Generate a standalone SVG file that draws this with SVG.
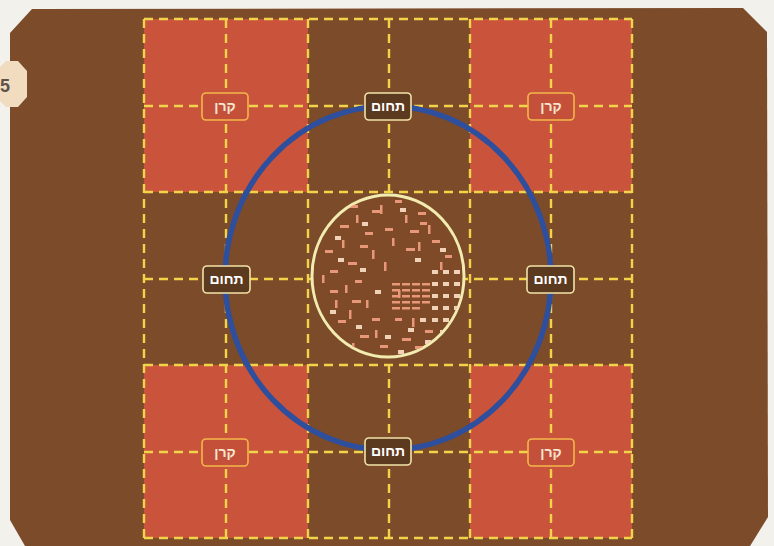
<svg xmlns="http://www.w3.org/2000/svg" width="774" height="546" viewBox="0 0 774 546">
<defs>
<style>
.grid{stroke:#f2d44a;stroke-width:2.4;stroke-dasharray:9 6;fill:none}
.red{fill:#c9533b}
.lbl{font-family:"Liberation Sans","DejaVu Sans",sans-serif;font-size:14px;font-weight:bold;text-anchor:middle}
.keren rect{fill:#c4503a;stroke:#f2b84a;stroke-width:1.6}
.keren text{fill:#f8e6d2}
.techum rect{fill:#5c3a1f;stroke:#f2e4a8;stroke-width:1.6}
.techum text{fill:#ffffff}
.mh{fill:#e89878}
.mc{fill:#f0d2b8}
</style>
<clipPath id="innerClip"><ellipse cx="388" cy="276" rx="75" ry="80"/></clipPath>
</defs>
<rect width="774" height="546" fill="#f3f1ec"/>
<polygon id="card" points="32,9 743,8 767,32 768,517 750,546 25,546 10,520 10,33" fill="#7b4b2a"/>
<g id="page-tab">
<polygon points="6,61 18,61 27,71 27,97 18,107 6,107 -4,97 -4,71" fill="#f2dcc0"/>
<text x="0" y="92" font-family="Liberation Sans, DejaVu Sans, sans-serif" font-size="18" font-weight="bold" fill="#5f544c">5</text>
</g>
<g id="red-squares">
<rect class="red" x="144" y="19" width="164" height="173"/>
<rect class="red" x="470" y="19" width="162" height="173"/>
<rect class="red" x="144" y="365" width="164" height="173"/>
<rect class="red" x="470" y="365" width="162" height="173"/>
</g>
<g id="connectors">
<path class="grid" d="M144,19V538M226,19V538M308,19V538M389,19V538M470,19V538M551,19V538M632,19V538"/>
<path class="grid" d="M144,19H632M144,106H632M144,192H632M144,279H632M144,365H632M144,452H632M144,538H632"/>
<ellipse id="blue-ring" cx="388" cy="278" rx="163" ry="172" fill="none" stroke="#2e4f9e" stroke-width="5.5"/>
</g>
<g id="city">
<ellipse cx="388" cy="276" rx="76" ry="81" fill="#7e4a28" stroke="#f3ecb0" stroke-width="3"/>
<g clip-path="url(#innerClip)">
<g class="mh">
<rect x="350" y="205" width="8" height="3"/><rect x="372" y="210" width="9" height="3"/><rect x="395" y="200" width="7" height="3"/><rect x="418" y="212" width="8" height="3"/>
<rect x="340" y="225" width="9" height="3"/><rect x="365" y="232" width="8" height="3"/><rect x="410" y="230" width="9" height="3"/><rect x="432" y="240" width="8" height="3"/>
<rect x="325" y="250" width="8" height="3"/><rect x="348" y="262" width="9" height="3"/><rect x="360" y="245" width="8" height="3"/><rect x="445" y="255" width="7" height="3"/>
<rect x="330" y="290" width="8" height="3"/><rect x="352" y="300" width="9" height="3"/><rect x="338" y="320" width="8" height="3"/><rect x="360" y="335" width="9" height="3"/>
<rect x="380" y="345" width="8" height="3"/><rect x="402" y="338" width="9" height="3"/><rect x="425" y="330" width="8" height="3"/><rect x="372" y="318" width="8" height="3"/>
<rect x="355" y="280" width="7" height="3"/><rect x="330" y="270" width="8" height="3"/><rect x="420" y="222" width="7" height="3"/><rect x="385" y="228" width="8" height="3"/>
<rect x="406" y="248" width="9" height="3"/><rect x="395" y="318" width="7" height="3"/><rect x="415" y="346" width="8" height="3"/><rect x="365" y="355" width="8" height="3"/>
<rect x="356" y="215" width="2.5" height="8"/><rect x="380" y="205" width="2.5" height="9"/><rect x="405" y="215" width="2.5" height="8"/><rect x="428" y="225" width="2.5" height="9"/>
<rect x="342" y="240" width="2.5" height="8"/><rect x="372" y="250" width="2.5" height="9"/><rect x="392" y="238" width="2.5" height="8"/><rect x="418" y="242" width="2.5" height="9"/>
<rect x="335" y="300" width="2.5" height="8"/><rect x="349" y="310" width="2.5" height="9"/><rect x="366" y="300" width="2.5" height="8"/><rect x="384" y="262" width="2.5" height="9"/>
<rect x="398" y="290" width="2.5" height="8"/><rect x="435" y="345" width="2.5" height="8"/><rect x="352" y="343" width="2.5" height="9"/><rect x="375" y="330" width="2.5" height="8"/>
<rect x="412" y="318" width="2.5" height="9"/><rect x="322" y="275" width="2.5" height="8"/><rect x="440" y="262" width="2.5" height="8"/><rect x="345" y="285" width="2.5" height="8"/>
</g>
<g class="mh">
<rect x="392" y="283" width="8" height="2.5"/><rect x="402" y="283" width="8" height="2.5"/><rect x="412" y="283" width="8" height="2.5"/><rect x="422" y="283" width="8" height="2.5"/>
<rect x="392" y="289" width="8" height="2.5"/><rect x="402" y="289" width="8" height="2.5"/><rect x="412" y="289" width="8" height="2.5"/><rect x="422" y="289" width="8" height="2.5"/>
<rect x="392" y="295" width="8" height="2.5"/><rect x="402" y="295" width="8" height="2.5"/><rect x="412" y="295" width="8" height="2.5"/><rect x="422" y="295" width="8" height="2.5"/>
<rect x="392" y="301" width="8" height="2.5"/><rect x="402" y="301" width="8" height="2.5"/><rect x="412" y="301" width="8" height="2.5"/><rect x="422" y="301" width="8" height="2.5"/>
<rect x="392" y="307" width="8" height="2.5"/><rect x="402" y="307" width="8" height="2.5"/><rect x="412" y="307" width="8" height="2.5"/>
</g>
<g class="mc">
<rect x="432" y="270" width="6" height="4"/><rect x="443" y="270" width="6" height="4"/><rect x="454" y="270" width="6" height="4"/>
<rect x="432" y="282" width="6" height="4"/><rect x="443" y="282" width="6" height="4"/><rect x="454" y="282" width="6" height="4"/>
<rect x="432" y="294" width="6" height="4"/><rect x="443" y="294" width="6" height="4"/><rect x="454" y="294" width="6" height="4"/>
<rect x="432" y="306" width="6" height="4"/><rect x="443" y="306" width="6" height="4"/><rect x="454" y="306" width="5" height="4"/>
<rect x="420" y="318" width="6" height="4"/><rect x="432" y="318" width="6" height="4"/><rect x="443" y="318" width="6" height="4"/>
<rect x="408" y="328" width="6" height="4"/><rect x="440" y="330" width="6" height="4"/><rect x="425" y="340" width="6" height="4"/>
<rect x="335" y="236" width="6" height="4"/><rect x="362" y="222" width="6" height="4"/><rect x="400" y="208" width="6" height="4"/><rect x="440" y="248" width="6" height="4"/>
<rect x="330" y="310" width="6" height="4"/><rect x="356" y="325" width="6" height="4"/><rect x="385" y="335" width="6" height="4"/><rect x="398" y="350" width="6" height="4"/>
<rect x="415" y="258" width="6" height="4"/><rect x="360" y="268" width="6" height="4"/><rect x="338" y="258" width="6" height="4"/><rect x="375" y="290" width="6" height="4"/>
</g>
</g>
</g>
<g id="keren-tl" class="keren"><rect x="202" y="93" width="46" height="27" rx="4"/><text class="lbl" x="225" y="111">קרן</text></g>
<g id="keren-tr" class="keren"><rect x="528" y="93" width="46" height="27" rx="4"/><text class="lbl" x="551" y="111">קרן</text></g>
<g id="keren-bl" class="keren"><rect x="202" y="439" width="46" height="27" rx="4"/><text class="lbl" x="225" y="457">קרן</text></g>
<g id="keren-br" class="keren"><rect x="528" y="439" width="46" height="27" rx="4"/><text class="lbl" x="551" y="457">קרן</text></g>
<g id="techum-top" class="techum"><rect x="365" y="93" width="46" height="27" rx="4"/><text class="lbl" x="388" y="111">תחום</text></g>
<g id="techum-left" class="techum"><rect x="203" y="266" width="47" height="27" rx="4"/><text class="lbl" x="226.5" y="284">תחום</text></g>
<g id="techum-right" class="techum"><rect x="527" y="266" width="47" height="27" rx="4"/><text class="lbl" x="550.5" y="284">תחום</text></g>
<g id="techum-bottom" class="techum"><rect x="365" y="438" width="46" height="27" rx="4"/><text class="lbl" x="388" y="456">תחום</text></g>
</svg>
